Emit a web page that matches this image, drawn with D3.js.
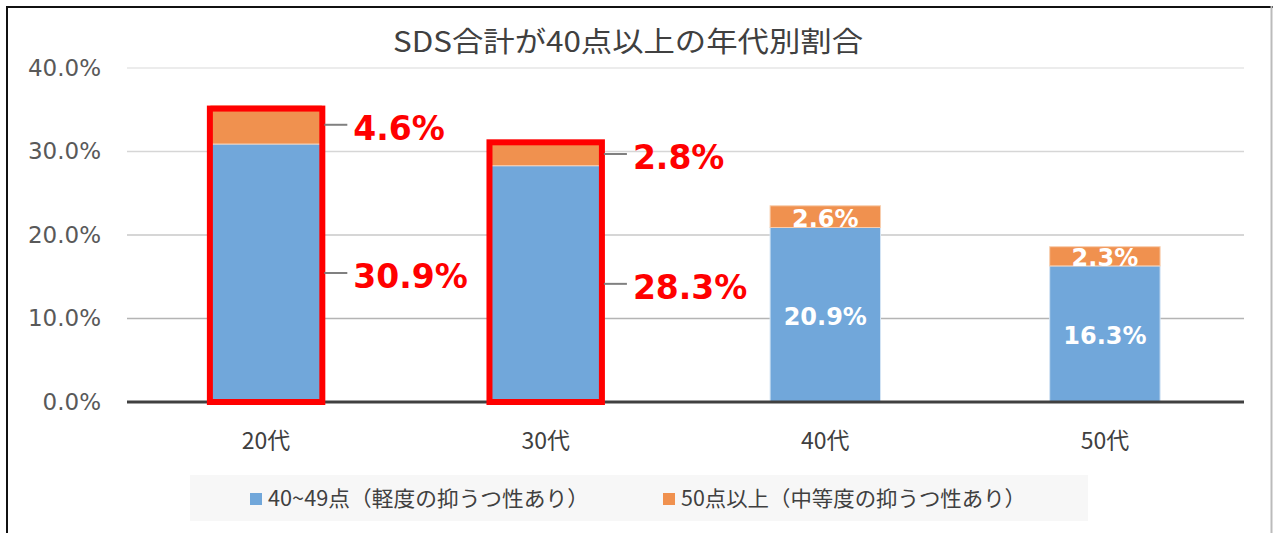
<!DOCTYPE html>
<html>
<head>
<meta charset="utf-8">
<script src="https://cdn.jsdelivr.net/npm/d3@7"></script>
<style>
  body { margin: 0; background: #fff; }
  svg { display: block; }
</style>
</head>
<body>
<div id="chart"></div>
<script>
const categories = ["20代", "30代", "40代", "50代"];
const mild = [30.9, 28.3, 20.9, 16.3];      // 40~49点
const moderate = [4.6, 2.8, 2.6, 2.3];      // 50点以上
const yTicks = [0, 10, 20, 30, 40];
const seriesNames = ["40~49点（軽度の抑うつ性あり）", "50点以上（中等度の抑うつ性あり）"];
const highlighted = ["20代", "30代"];

const w = 1273, h = 533;
const plotLeft = 127, plotRight = 1244, plotTop = 68, plotBottom = 402;
const numFont = "'DejaVu Sans', Verdana, sans-serif";
const jpFont = "'Noto Sans CJK JP', 'Noto Sans', sans-serif";

const svg = d3.select("#chart").append("svg")
  .attr("width", w).attr("height", h);

// frame
svg.append("rect").attr("x", 0).attr("y", 0).attr("width", w).attr("height", h).attr("fill", "#fff");
svg.append("line").attr("x1", 7).attr("x2", w).attr("y1", 7).attr("y2", 7).attr("stroke", "#111").attr("stroke-width", 2);
svg.append("line").attr("x1", 7).attr("x2", 7).attr("y1", 6).attr("y2", h).attr("stroke", "#111").attr("stroke-width", 2);
svg.append("line").attr("x1", 1271.5).attr("x2", 1271.5).attr("y1", 6).attr("y2", h).attr("stroke", "#bbb").attr("stroke-width", 2);

const xScale = d3.scaleBand().domain(categories).range([plotLeft, plotRight]).paddingInner(0.605).paddingOuter(0.3);
const yScale = d3.scaleLinear().domain([0, 40]).range([plotBottom, plotTop]);

// title
svg.append("text")
  .attr("x", 393).attr("y", 52)
  .attr("font-family", jpFont).attr("font-size", 28)
  .attr("textLength", 470).attr("lengthAdjust", "spacingAndGlyphs")
  .attr("fill", "#404040")
  .text("SDS合計が40点以上の年代別割合");

// gridlines
const gridColors = ["#b4b4b4", "#c8c8c8", "#d6d6d6", "#e6e6e6"];
svg.selectAll(".grid").data(yTicks.filter(d => d > 0)).enter()
  .append("line")
  .attr("x1", plotLeft).attr("x2", plotRight)
  .attr("y1", d => yScale(d)).attr("y2", d => yScale(d))
  .attr("stroke", (d, i) => gridColors[i]).attr("stroke-width", 1.5);

// y labels
const yAxis = d3.axisLeft(yScale).tickValues(yTicks).tickFormat(d => d.toFixed(1) + "%").tickSize(0).tickPadding(26);
const yg = svg.append("g").attr("transform", `translate(${plotLeft},0)`).call(yAxis);
yg.select(".domain").remove();
yg.selectAll("text").attr("font-family", numFont).attr("font-size", 23).attr("fill", "#595959");

// bars
const rows = categories.map((c, i) => ({ cat: c, mild: mild[i], moderate: moderate[i] }));
const bw = xScale.bandwidth();

svg.selectAll(".bar-mild").data(rows).enter().append("rect")
  .attr("x", d => xScale(d.cat)).attr("width", bw)
  .attr("y", d => yScale(d.mild)).attr("height", d => yScale(0) - yScale(d.mild))
  .attr("fill", "#71a7da").attr("stroke", "#d5e5f4").attr("stroke-width", 1);

svg.selectAll(".bar-mod").data(rows).enter().append("rect")
  .attr("x", d => xScale(d.cat)).attr("width", bw)
  .attr("y", d => yScale(d.mild + d.moderate)).attr("height", d => yScale(d.mild) - yScale(d.mild + d.moderate))
  .attr("fill", "#f0914f").attr("stroke", "#f8cfb0").attr("stroke-width", 1);

// zero line
svg.append("line").attr("x1", plotLeft).attr("x2", plotRight)
  .attr("y1", yScale(0)).attr("y2", yScale(0))
  .attr("stroke", "#404040").attr("stroke-width", 3);

// x labels
categories.forEach(c => {
  svg.append("text")
    .attr("x", xScale(c) + bw / 2).attr("y", 449)
    .attr("text-anchor", "middle")
    .attr("font-family", jpFont).attr("font-size", 23).attr("fill", "#404040")
    .text(c);
});

// highlighted boxes and red labels with leader lines
const boxPad = { "20代": 3, "30代": 0 };
rows.filter(d => highlighted.includes(d.cat)).forEach(d => {
  const x0 = xScale(d.cat);
  const by = yScale(d.mild + d.moderate) + boxPad[d.cat];
  svg.append("rect")
    .attr("x", x0 - 1).attr("y", by)
    .attr("width", bw + 2).attr("height", yScale(0) - by)
    .attr("fill", "none").attr("stroke", "#ff0000").attr("stroke-width", 6);
  [[d.moderate, d.mild + d.moderate / 2], [d.mild, d.mild / 2]].forEach(([v, mid]) => {
    const ly = yScale(mid);
    svg.append("line")
      .attr("x1", x0 + bw + 3).attr("x2", x0 + bw + 26)
      .attr("y1", ly).attr("y2", ly)
      .attr("stroke", "#808080").attr("stroke-width", 2);
    svg.append("text")
      .attr("x", x0 + bw + 32).attr("y", ly + 15)
      .attr("font-family", numFont).attr("font-weight", "bold").attr("font-size", 33)
      .attr("fill", "#ff0000")
      .text(v.toFixed(1) + "%");
  });
});

// white labels inside other bars
rows.filter(d => !highlighted.includes(d.cat)).forEach(d => {
  const cx = xScale(d.cat) + bw / 2;
  [[d.moderate, d.mild + d.moderate / 2], [d.mild, d.mild / 2]].forEach(([v, mid]) => {
    svg.append("text")
      .attr("x", cx).attr("y", yScale(mid) + 10)
      .attr("text-anchor", "middle")
      .attr("font-family", numFont).attr("font-weight", "bold").attr("font-size", 24)
      .attr("fill", "#fff")
      .text(v.toFixed(1) + "%");
  });
});

// legend
svg.append("rect").attr("x", 190).attr("y", 475).attr("width", 898).attr("height", 46).attr("fill", "#f7f7f7");
const legendX = [250, 663];
const legendLen = [321, 345];
const legendColors = ["#71a7da", "#f0914f"];
seriesNames.forEach((s, i) => {
  svg.append("rect").attr("x", legendX[i]).attr("y", 493).attr("width", 12).attr("height", 12).attr("fill", legendColors[i]);
  svg.append("text").attr("x", legendX[i] + 18).attr("y", 506)
    .attr("font-family", jpFont).attr("font-size", 21).attr("fill", "#404040")
    .attr("textLength", legendLen[i]).attr("lengthAdjust", "spacingAndGlyphs")
    .text(s);
});
</script>
</body>
</html>
